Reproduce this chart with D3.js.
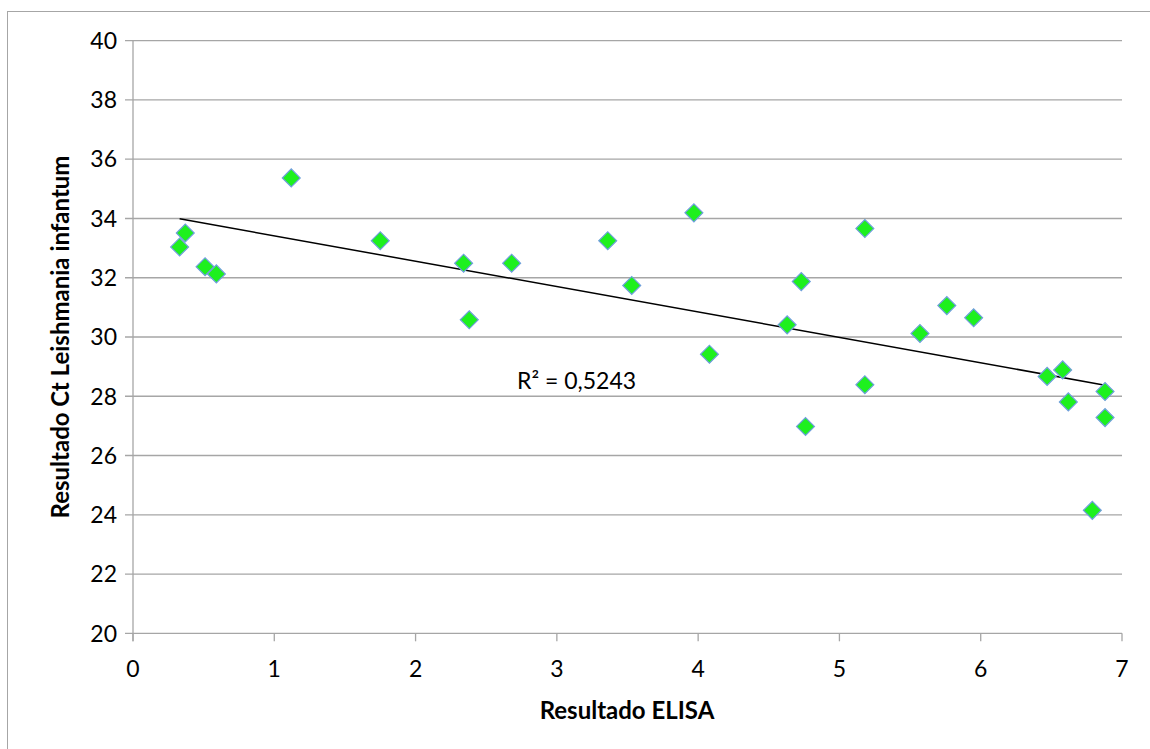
<!DOCTYPE html>
<html>
<head>
<meta charset="utf-8">
<script src="https://cdn.jsdelivr.net/npm/d3@7"></script>
<style>
    body { margin: 0; background: #fff; }
    svg { display: block; font-family: Lato, "Open Sans", sans-serif; }
</style>
</head>
<body>
<div id="chart"></div>
<script>
// Datos
let elisa = [0.33, 0.37, 0.51, 0.59, 1.12, 1.75, 2.34, 2.38, 2.68, 3.36, 3.53, 3.97, 4.08, 4.63, 4.73, 4.76, 5.18, 5.18, 5.57, 5.76, 5.95, 6.47, 6.58, 6.62, 6.79, 6.88, 6.88];
let ct = [33.04, 33.51, 32.37, 32.13, 35.37, 33.25, 32.49, 30.58, 32.49, 33.25, 31.74, 34.19, 29.42, 30.41, 31.87, 26.98, 33.66, 28.39, 30.12, 31.06, 30.65, 28.67, 28.89, 27.81, 24.15, 28.16, 27.28];
let xTicks = [0, 1, 2, 3, 4, 5, 6, 7];
let yTicks = [20, 22, 24, 26, 28, 30, 32, 34, 36, 38, 40];
let r2Label = 'R² = 0,5243';

let W = 1150, H = 749;
let margin = {top: 40.7, right: 28, bottom: 115.7, left: 133};
let width = 1122 - margin.left, height = 633.3 - margin.top;

let svg = d3.select('#chart').append('svg')
    .attr('width', W)
    .attr('height', H);

//Marco exterior
svg.append('rect')
    .attr('x', 7.5).attr('y', 11.5)
    .attr('width', W + 10).attr('height', H + 10)
    .attr('fill', 'none')
    .attr('stroke', '#a6a6a6')
    .attr('stroke-width', 1);

let chart = svg.append('g')
    .attr('transform', 'translate(' + margin.left + ',' + margin.top + ')');

let x_c = d3.scaleLinear().domain([0, 7]).range([0, width]);
let y_c = d3.scaleLinear().domain([20, 40]).range([height, 0]);

//Líneas de cuadrícula
chart.append('g')
    .selectAll('line')
    .data(yTicks)
    .enter()
    .append('line')
    .attr('x1', -8)
    .attr('x2', width)
    .attr('y1', function(d) { return y_c(d); })
    .attr('y2', function(d) { return y_c(d); })
    .attr('stroke', '#a6a6a6')
    .attr('stroke-width', 1.3);

//Eje Y
chart.append('line')
    .attr('x1', 0).attr('x2', 0)
    .attr('y1', 0).attr('y2', height + 8)
    .attr('stroke', '#a6a6a6')
    .attr('stroke-width', 1.3);

chart.append('g')
    .selectAll('text')
    .data(yTicks)
    .enter()
    .append('text')
    .attr('x', -16)
    .attr('y', function(d) { return y_c(d); })
    .attr('dy', '0.36em')
    .attr('text-anchor', 'end')
    .attr('font-size', 23)
    .attr('fill', '#000')
    .text(function(d) { return d; });

//Eje X
chart.append('g')
    .selectAll('line')
    .data(xTicks)
    .enter()
    .append('line')
    .attr('x1', function(d) { return x_c(d); })
    .attr('x2', function(d) { return x_c(d); })
    .attr('y1', height)
    .attr('y2', height + 8)
    .attr('stroke', '#a6a6a6')
    .attr('stroke-width', 1.3);

chart.append('g')
    .selectAll('text')
    .data(xTicks)
    .enter()
    .append('text')
    .attr('x', function(d) { return x_c(d); })
    .attr('y', height + 35)
    .attr('dy', '0.36em')
    .attr('text-anchor', 'middle')
    .attr('font-size', 23)
    .attr('fill', '#000')
    .text(function(d) { return d; });

//Títulos de los ejes
svg.append('text')
    .attr('x', 627)
    .attr('y', 710)
    .attr('dy', '0.36em')
    .attr('text-anchor', 'middle')
    .attr('font-size', 24)
    .attr('font-weight', 'bold')
    .text('Resultado ELISA');

svg.append('text')
    .attr('transform', 'translate(60,' + (margin.top + height / 2) + ') rotate(-90)')
    .attr('dy', '0.36em')
    .attr('text-anchor', 'middle')
    .attr('font-size', 24)
    .attr('font-weight', 'bold')
    .text('Resultado Ct Leishmania infantum');

//Línea de tendencia (mínimos cuadrados)
let mx = d3.mean(elisa), my = d3.mean(ct);
let sxy = d3.sum(elisa, function(d, i) { return (d - mx) * (ct[i] - my); });
let sxx = d3.sum(elisa, function(d) { return (d - mx) * (d - mx); });
let slope = sxy / sxx, intercept = my - slope * mx;
let ext = d3.extent(elisa);

chart.append('line')
    .attr('x1', x_c(ext[0]))
    .attr('y1', y_c(intercept + slope * ext[0]))
    .attr('x2', x_c(ext[1]))
    .attr('y2', y_c(intercept + slope * ext[1]))
    .attr('stroke', '#000')
    .attr('stroke-width', 1.5);

chart.append('text')
    .attr('x', 517 - margin.left)
    .attr('y', 389 - margin.top)
    .attr('font-size', 23)
    .attr('fill', '#000')
    .text(r2Label);

//Puntos
let diamond = d3.symbol().type(d3.symbolSquare).size(160);

chart.selectAll('.point')
    .data(elisa)
    .enter()
    .append('path')
    .attr('class', 'point')
    .attr('d', diamond)
    .attr('transform', function(d, i) { return 'translate(' + x_c(d) + ',' + y_c(ct[i]) + ') rotate(45)'; })
    .attr('fill', '#1ef01e')
    .attr('stroke', '#6f9fdc')
    .attr('stroke-width', 1.2);
</script>
</body>
</html>
